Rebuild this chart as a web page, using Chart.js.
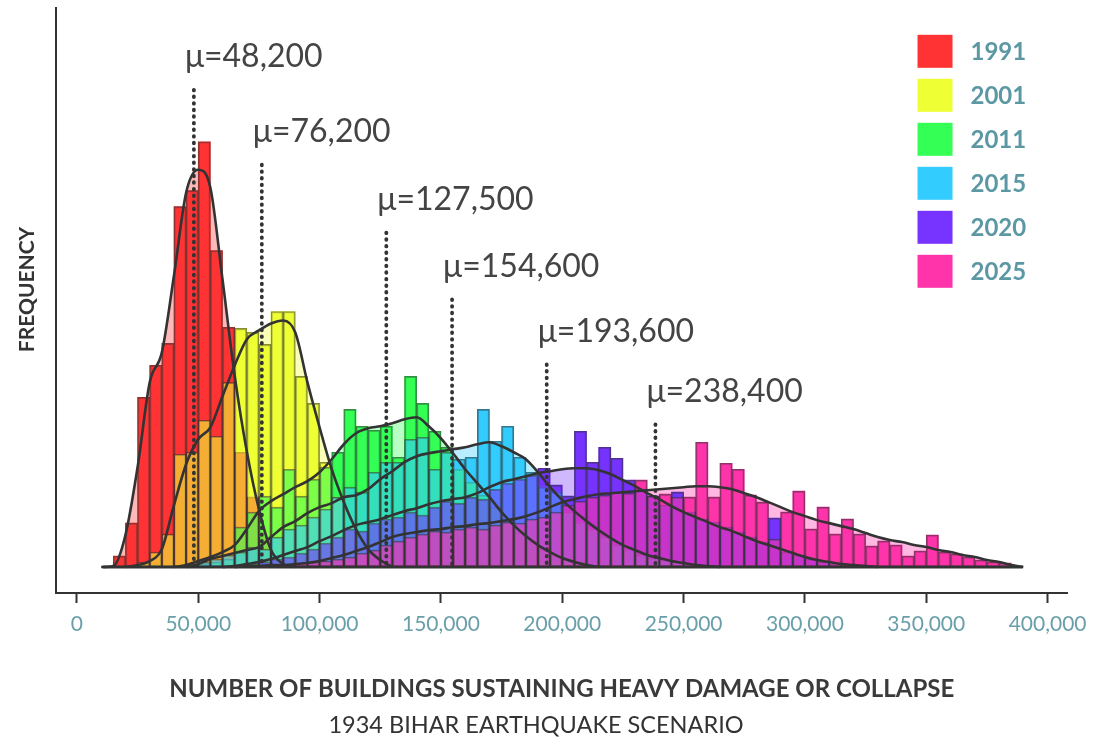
<!DOCTYPE html>
<html><head><meta charset="utf-8">
<script src="https://cdn.jsdelivr.net/npm/chart.js@4.4.1/dist/chart.umd.min.js"></script>
<style>html,body{margin:0;padding:0;background:#fff;}#wrap{width:1096px;height:740px;}</style>
</head><body><div id="wrap"><canvas id="c" width="1096" height="740"></canvas></div>
<script>
// ---------- DATA ----------
const seriesLabels = ['1991', '2001', '2011', '2015', '2020', '2025'];
const seriesColors = ['#FF3333', '#EEFF33', '#33FF55', '#33CCFF', '#7733FF', '#FF33AA'];

// histogram bin centres (bin width 5,000 buildings)
const binCenters = [17500,22500,27500,32500,37500,42500,47500,52500,57500,62500,67500,72500,77500,82500,87500,92500,97500,102500,107500,112500,117500,122500,127500,132500,137500,142500,147500,152500,157500,162500,167500,172500,177500,182500,187500,192500,197500,202500,207500,212500,217500,222500,227500,232500,237500,242500,247500,252500,257500,262500,267500,272500,277500,282500,287500,292500,297500,302500,307500,312500,317500,322500,327500,332500,337500,342500,347500,352500,357500,362500,367500,372500,377500,382500];

// frequencies per bin; first value sits at binCenters[histOffset[i]]
const histOffset = [0, 2, 6, 7, 10, 11];
const hist1991 = [11,44,170,202,224,361,377,426,317,240,115,70,30,12,4];
const hist2001 = [5,15,33,113,115,147,131,185,239,235,223,256,256,191,164,105,70,40,20,8,3];
const hist2011 = [2,3,5,8,40,55,71,60,98,71,88,100,115,158,141,137,141,110,191,164,136,120,98,85,72,60,48,35,25,18,12,8,5,2];
const hist2015 = [5,8,12,15,20,18,30,38,42,50,58,70,80,75,95,105,105,128,130,98,115,108,110,158,126,141,110,95,80,75,55,45,38,30,22,18,12,9,7,5,3,2];
const hist2020 = [2,3,5,8,10,14,18,24,30,38,36,44,48,50,55,52,60,66,64,70,68,78,84,88,92,99,82,71,136,105,120,109,87,78,71,62,75,55,48,45,40,35,30,25,49,15,12,8,5,3,2];
const hist2025 = [1,1,2,3,4,5,6,8,10,14,17,22,26,30,33,36,35,38,40,38,42,45,44,48,50,55,62,66,70,72,75,74,87,71,73,70,70,125,70,104,98,72,65,28,55,76,38,60,33,48,33,21,26,22,11,16,32,15,13,10,7,5,4];

// density curve samples (read every 5,000); first value sits at densityX[densOffset[i]]
const densityX = [10000,15000,20000,25000,30000,35000,40000,45000,50000,55000,60000,65000,70000,75000,80000,85000,90000,95000,100000,105000,110000,115000,120000,125000,130000,135000,140000,145000,150000,155000,160000,165000,170000,175000,180000,185000,190000,195000,200000,205000,210000,215000,220000,225000,230000,235000,240000,245000,250000,255000,260000,265000,270000,275000,280000,285000,290000,295000,300000,305000,310000,315000,320000,325000,330000,335000,340000,345000,350000,355000,360000,365000,370000,375000,380000,385000,390000];
const densOffset = [0, 2, 6, 7, 10, 11];
const dens1991 = [0,1,32,100,185,215,292,375,398,380,288,192,116,58,17,3,0];
const dens2001 = [0,2,6,18,62,103,128,140,171,202,228,237,244,247,235,185,140,98,65,38,18,7,0];
const dens2011 = [0,2,6,10,15,22,38,56,66,73,80,86,95,108,123,134,139,141,144,148,150,141,129,114,98,84,70,55,42,31,22,15,9,5,2,0];
const dens2015 = [0,3,8,11,14,17,20,30,40,46,54,60,64,70,72,78,88,96,105,111,114,116,118,120,123,125,121,115,108,95,80,67,56,46,37,29,22,17,12,9,6,4,2,1,0];
const dens2020 = [0,1,3,5,8,12,16,20,26,31,37,42,45,48,52,56,59,63,66,68,70,74,80,85,88,91,94,96,98,99,99,97,93,87,81,74,68,61,55,50,45,40,36,31,26,22,18,14,10,7,5,3,2,1,0];
const dens2025 = [0,1,1,2,2,3,4,6,9,12,16,20,25,30,33,35,37,38,40,41,43,44,46,48,51,55,60,65,68,71,73,74,75,76,77,78,79,80,81,81,80,78,74,70,65,60,55,51,47,44,41,38,34,30,27,25,22,20,17,15,12,10,7,5,2,0];

// overall data range (density baseline)
const baselineRange = [10700, 389700];

// means and the height where each mean's dotted marker ends
const meanValues = [48200, 76200, 127500, 154600, 193600, 238400];
const meanMarkerTop = [478, 403, 335, 268, 203, 143];

const xTickValues = [0, 50000, 100000, 150000, 200000, 250000, 300000, 350000, 400000];

// ---------- BUILD ----------
const histValues = [hist1991, hist2001, hist2011, hist2015, hist2020, hist2025];
const densValues = [dens1991, dens2001, dens2011, dens2015, dens2020, dens2025];

function rgba(hex, a) {
  const n = parseInt(hex.slice(1), 16);
  return `rgba(${(n >> 16) & 255},${(n >> 8) & 255},${n & 255},${a})`;
}
function histData(i) {
  return histValues[i].map((v, j) => ({ x: binCenters[histOffset[i] + j], y: v })).filter(p => p.y > 0);
}
function densData(i) {
  return densValues[i].map((v, j) => ({ x: densityX[densOffset[i] + j], y: v }));
}

const datasets = [];
seriesLabels.forEach((lab, i) => {
  const c = seriesColors[i];
  datasets.push({ type: 'line', label: lab + ' density fill', data: densData(i), fill: 'origin',
    backgroundColor: rgba(c, 0.35), borderColor: 'rgba(0,0,0,0)', borderWidth: 0, pointRadius: 0,
    cubicInterpolationMode: 'monotone', order: 100 - i });
  // opaque under-layer: earliest series ends up on top
  datasets.push({ type: 'bar', label: lab + ' base', data: histData(i), backgroundColor: c,
    borderWidth: 0, grouped: false, barPercentage: 1, categoryPercentage: 1, order: 60 + i });
  // translucent layer: later series drawn over earlier ones
  datasets.push({ type: 'bar', label: lab, data: histData(i), backgroundColor: rgba(c, 0.6),
    borderColor: 'rgba(50,50,50,0.55)', borderWidth: 1.4, borderSkipped: false,
    grouped: false, barPercentage: 1, categoryPercentage: 1, order: 55 - i });
  datasets.push({ type: 'line', label: lab + ' density', data: densData(i), fill: false,
    borderColor: '#333333', borderWidth: 2.6, pointRadius: 0,
    cubicInterpolationMode: 'monotone', order: 10 });
});
datasets.push({ type: 'line', label: 'baseline', data: baselineRange.map(x => ({ x, y: 0 })),
  borderColor: '#333333', borderWidth: 3, pointRadius: 0, fill: false, order: 5 });

const meanPlugin = {
  id: 'meanMarkers',
  afterDatasetsDraw(chart) {
    const { ctx, scales: { x, y } } = chart;
    ctx.save();
    meanValues.forEach((m, i) => {
      const px = x.getPixelForValue(m);
      const top = y.getPixelForValue(meanMarkerTop[i]);
      const bottom = y.getPixelForValue(0);
      ctx.beginPath();
      ctx.setLineDash([0.6, 6]);
      ctx.lineCap = 'round';
      ctx.lineWidth = 3.8;
      ctx.strokeStyle = '#333333';
      ctx.moveTo(px, top);
      ctx.lineTo(px, bottom - 2);
      ctx.stroke();
      ctx.setLineDash([]);
      ctx.font = '32px Lato';
      ctx.fillStyle = '#444444';
      ctx.textAlign = 'left';
      ctx.textBaseline = 'middle';
      ctx.fillText('\u03bc=' + m.toLocaleString('en-US'), px - 9, top - 33);
    });
    ctx.restore();
  }
};

const sideTextPlugin = {
  id: 'sideText',
  afterDraw(chart) {
    const { ctx, chartArea } = chart;
    ctx.save();
    // y axis title
    ctx.translate(chartArea.left - 29, (chartArea.top + chartArea.bottom) / 2 - 11);
    ctx.rotate(-Math.PI / 2);
    ctx.font = 'bold 21px Lato';
    ctx.fillStyle = '#333333';
    ctx.textAlign = 'center';
    ctx.textBaseline = 'middle';
    ctx.fillText('FREQUENCY', 0, 0);
    ctx.restore();

    // legend
    ctx.save();
    const x0 = chartArea.right - 150;
    seriesLabels.forEach((lab, i) => {
      const yc = chartArea.top + 43.3 + 44 * i;
      ctx.fillStyle = seriesColors[i];
      ctx.fillRect(x0, yc - 16.5, 35, 33);
      ctx.font = 'bold 24px Lato';
      ctx.fillStyle = '#5b98a3';
      ctx.textAlign = 'left';
      ctx.textBaseline = 'middle';
      ctx.fillText(lab, x0 + 53, yc + 1);
    });
    ctx.restore();
  }
};

new Chart(document.getElementById('c'), {
  type: 'bar',
  data: { datasets },
  plugins: [meanPlugin, sideTextPlugin],
  options: {
    responsive: false,
    animation: false,
    events: [],
    layout: { padding: { left: 0, right: 24, top: 8, bottom: 0 } },
    plugins: {
      legend: { display: false },
      tooltip: { enabled: false },
      title: {
        display: true, position: 'bottom', text: '1934 BIHAR EARTHQUAKE SCENARIO',
        color: '#333333', font: { family: 'Lato', size: 23.5, weight: 'normal', lineHeight: 1.2 },
        padding: { top: 0, bottom: 0 }
      }
    },
    scales: {
      x: {
        type: 'linear', offset: false,
        min: -8615, max: 408205,
        afterBuildTicks: s => { s.ticks = xTickValues.map(v => ({ value: v })); },
        afterFit: s => { s.height = 118.8; },
        grid: { display: true, offset: false, drawOnChartArea: false, drawTicks: true, tickLength: 10, tickWidth: 2, tickColor: '#333333' },
        border: { display: true, color: '#333333', width: 2 },
        ticks: { autoSkip: false, maxRotation: 0, padding: 9, color: '#6a9faa',
          font: { family: 'Lato', size: 21 }, callback: v => Number(v).toLocaleString('en-US') },
        title: { display: true, text: 'NUMBER OF BUILDINGS SUSTAINING HEAVY DAMAGE OR COLLAPSE',
          color: '#3a3a3a', font: { family: 'Lato', size: 24, weight: 'bold', lineHeight: 1.2 },
          padding: { top: 0, bottom: 8 } }
      },
      y: {
        type: 'linear', min: -26, max: 560,
        afterFit: s => { s.width = 56; },
        grid: { display: false },
        border: { display: true, color: '#333333', width: 2 },
        ticks: { display: false },
        title: { display: false }
      }
    }
  }
});
</script></body></html>
